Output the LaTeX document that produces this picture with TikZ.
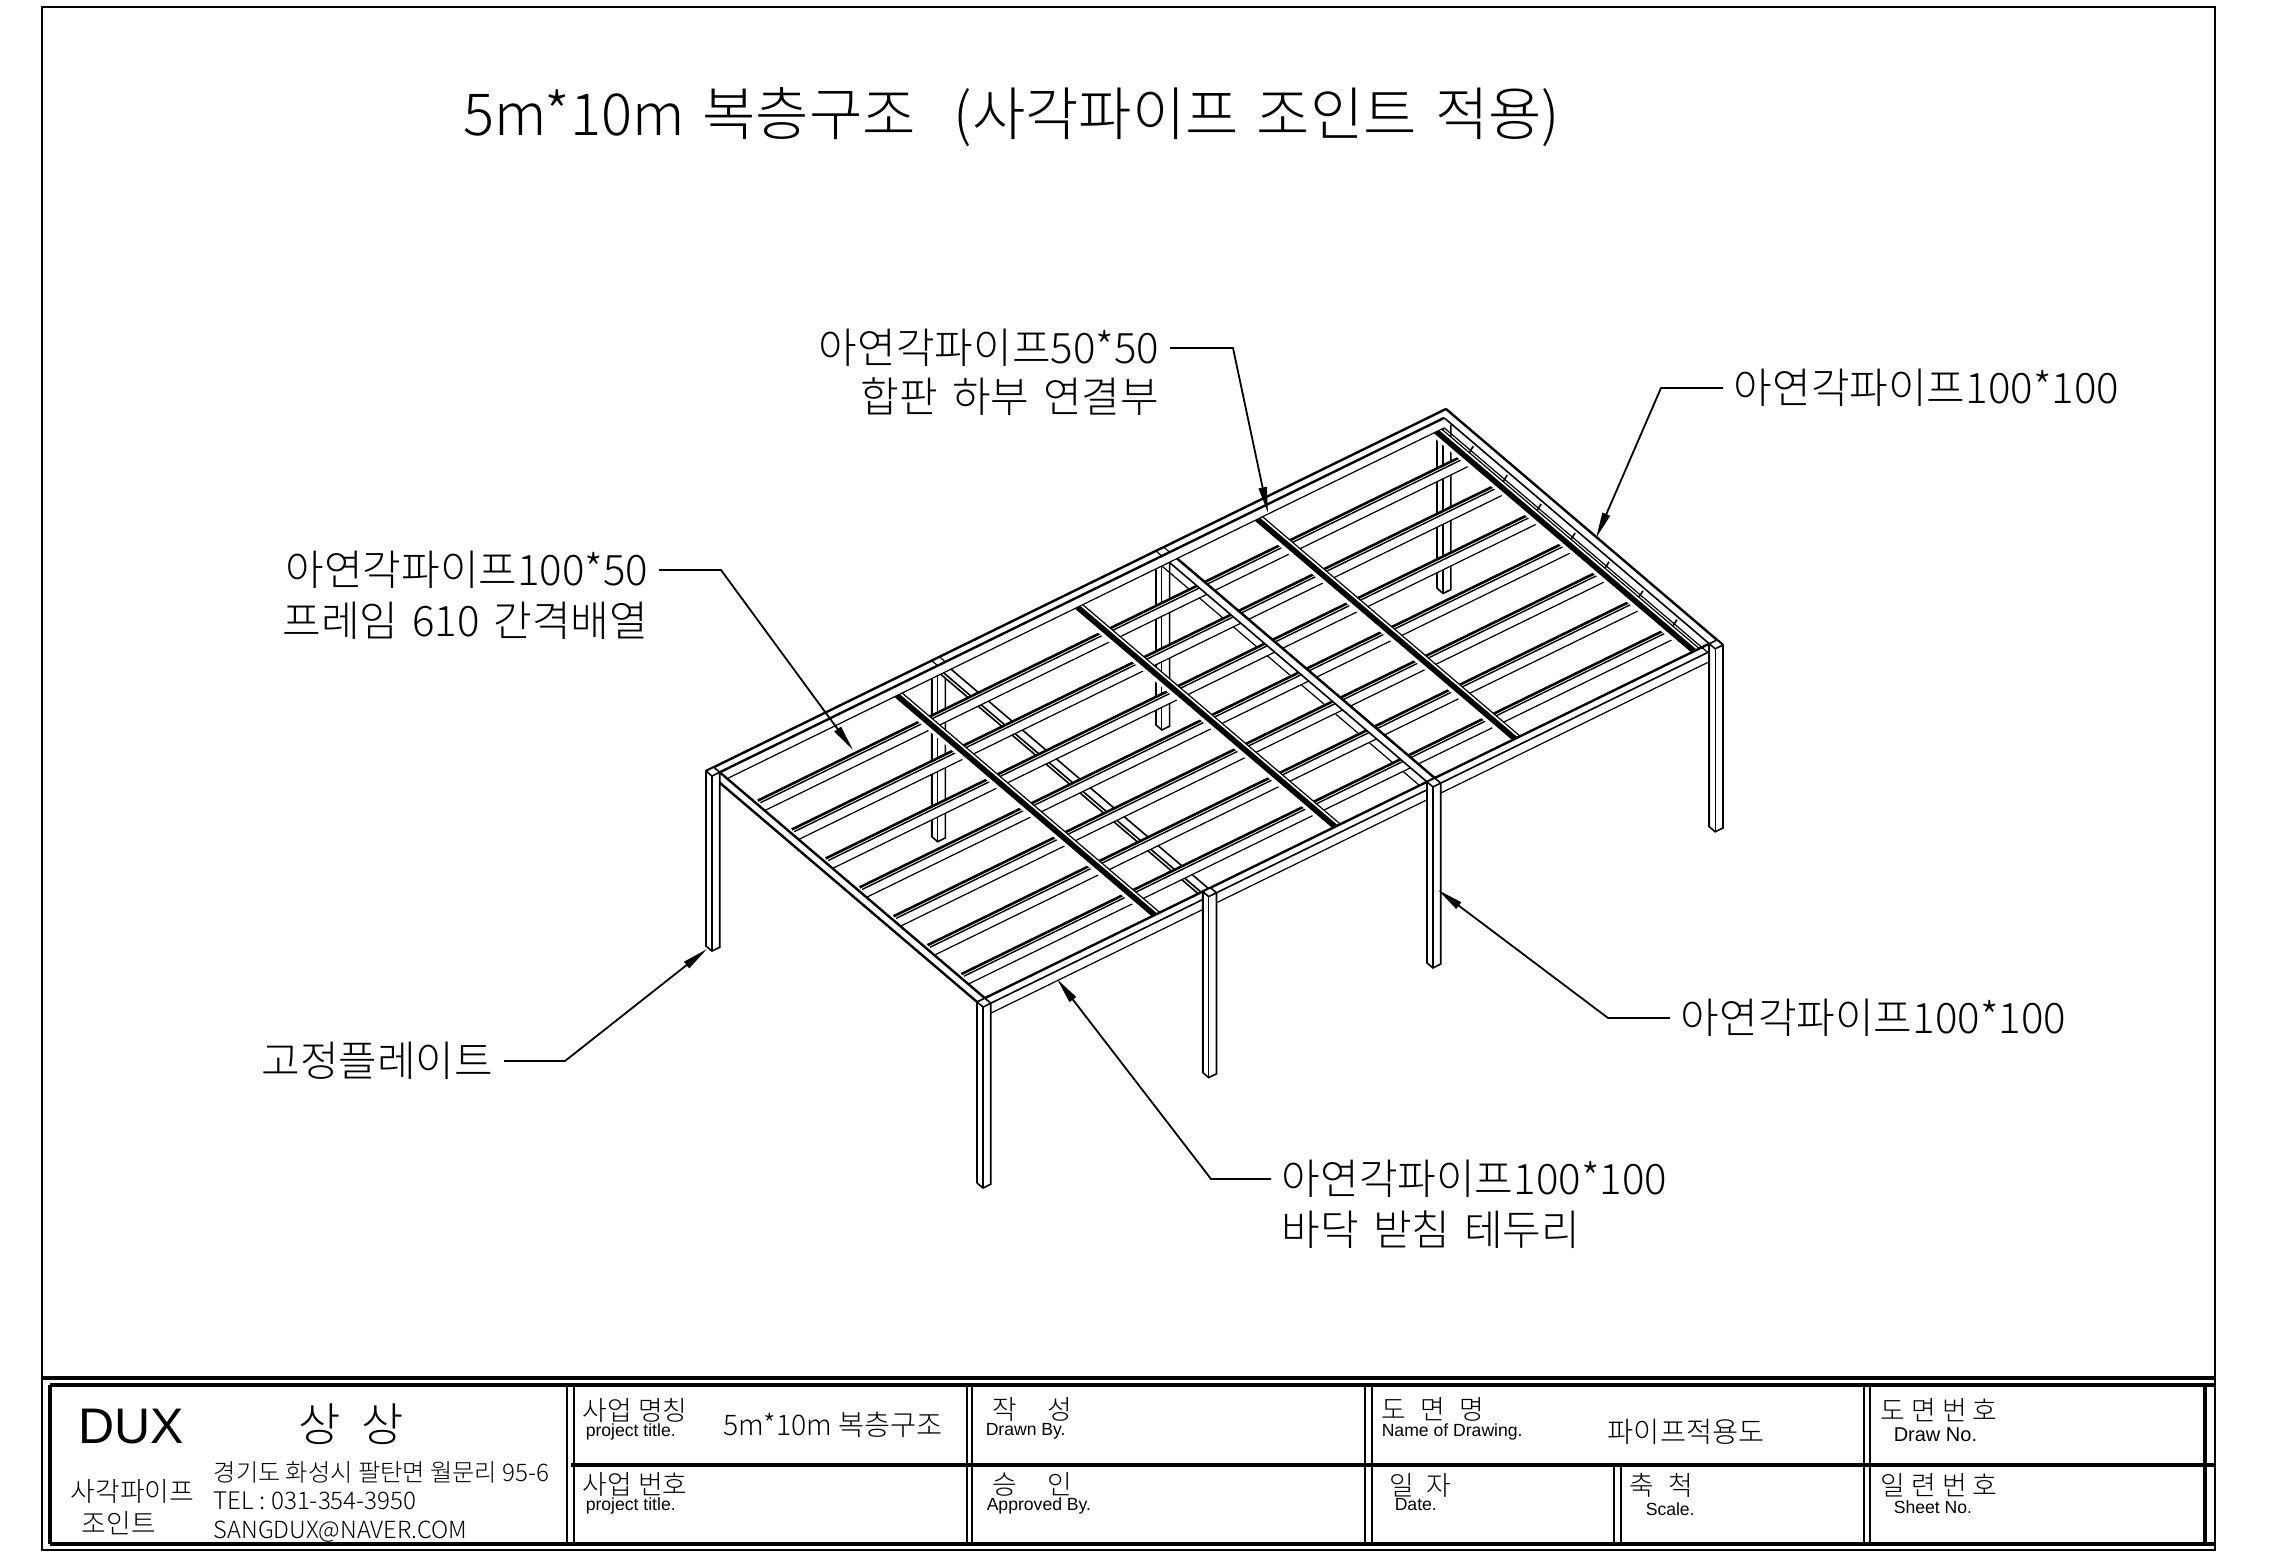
\documentclass[tikz,border=0pt]{standalone}
\usepackage{fontspec}
\setmainfont{Noto Sans CJK KR}
\newfontfamily\krfont{Noto Sans CJK KR}[UprightFont={* Light}]
\newfontfamily\latfont{Liberation Sans}
\usetikzlibrary{arrows.meta}
\newcommand{\wordgap}[1]{\spaceskip #1\relax}

\tikzset{every picture/.style={line width=0.75pt},
  thinline/.style={line width=0.6pt},
  midline/.style={line width=0.8pt},
  heavyline/.style={line width=1.2pt},
  pipeline/.style={line width=2.8pt},
  sheetline/.style={line width=2pt},
  leader/.style={line width=0.9pt,-{Triangle[length=13pt,width=4pt]}},
  titletext/.style={anchor=west,inner sep=0.75pt,font=\krfont\fontsize{29pt}{34pt}\selectfont\wordgap{9pt}},
  calltext/.style={inner sep=5pt,font=\krfont\fontsize{21pt}{25pt}\selectfont\wordgap{7pt}},
  headtext/.style={anchor=west,inner sep=0pt,font=\krfont\fontsize{13.4pt}{16pt}\selectfont\wordgap{#1}},
  headtext/.default=3pt,
  subtext/.style={anchor=west,inner sep=0pt,font=\latfont\fontsize{8.8pt}{10pt}\selectfont},
  celltext/.style={anchor=west,inner sep=0pt,font=\krfont\fontsize{14.2pt}{17pt}\selectfont},
  addrtext/.style={anchor=west,inner sep=0pt,font=\krfont\fontsize{12.1pt}{15pt}\selectfont}
}
\newcommand{\aW}{0.0105}
\newcommand{\bW}{0.0215}
% a post of the frame: near corner at (#1,#2), length #3
\newcommand{\framepost}[3]{%
  \draw[midline,fill=white] (#1,#2-\bW,0) -- (#1,#2-\bW,#3) -- (#1,#2,#3) -- (#1+\aW,#2,#3) -- (#1+\aW,#2,0);
  \draw[midline,fill=white] (#1,#2-\bW,0) -- (#1+\aW,#2-\bW,0) -- (#1+\aW,#2,0) -- (#1,#2,0) -- cycle;
  \draw[heavyline] (#1,#2-\bW,0) -- (#1,#2-\bW,#3);
  \draw[thinline] (#1,#2,0) -- (#1,#2,#3);
}

\begin{document}
\begin{tikzpicture}[x=0.5pt,y=-0.5pt]
\useasboundingbox (0,0) rectangle (2272,1557);

%Sheet border
\draw [line width=1pt] (42,7) rectangle (2215,1550);

% Text Node
\draw (461,117) node (sheetTitle) [titletext] {5m*10m 복층구조 \hspace{10pt}(사각파이프 조인트 적용)};

%Frame, drawn in its own axes: along the long side, along the short side, down in pixels
\begin{scope}[shift={(706,771)},x={(370pt,181pt)},y={(138.5pt,-118pt)},z={(0pt,-0.5pt)}]
%Back posts
\framepost{0.305}{\bW}{176}
\framepost{0.608}{\bW}{174}
\framepost{0.988}{\bW}{175}

%Lower cross beam
\fill[white] (0.305,0.02,6) -- (0.319,0.02,6) -- (0.319,0.98,6) -- (0.305,0.98,6) -- cycle;
\draw[midline] (0.305,0.02,6) -- (0.305,0.98,6);
\draw[midline] (0.309,0.02,6) -- (0.309,0.98,6);
\draw[midline] (0.319,0.02,6) -- (0.319,0.98,6);

%Side of the upper cross beam
\draw[thinline] (0.608,0.02,10) -- (0.608,0.98,10);

%Joists
\foreach \bpos in {0.148,0.2705,0.393,0.5155,0.638,0.7605,0.883} {
  \fill[white] (0.0147,\bpos,0) -- (0.972,\bpos,0) -- (0.972,\bpos+0.009,10) -- (0.0147,\bpos+0.009,10) -- cycle;
  \draw[line width=1.3pt] (0.0147,\bpos,0) -- (0.972,\bpos,0);
  \draw[line width=0.7pt] (0.0147,\bpos+0.009,0) -- (0.972,\bpos+0.009,0);
  \draw[thinline] (0.0147,\bpos+0.009,10) -- (0.972,\bpos+0.009,10);
}

%Upper cross beam
\draw[midline,fill=white] (0.608,0.02,0) -- (0.608+\aW,0.02,0) -- (0.608+\aW,0.98,0) -- (0.608,0.98,0) -- cycle;
\draw[heavyline] (0.608+\aW,0.02,0) -- (0.608+\aW,0.98,0);

%Pipes under the plywood
\foreach \apos in {0.243,0.487,0.73,0.972} {
  \fill[white] (\apos+0.004,0.02,0) -- (\apos+0.004,0.99,0) -- (\apos,0.99,11) -- (\apos,0.02,11) -- cycle;
  \draw[pipeline] (\apos,0.022,3) -- (\apos,0.988,3);
  \draw[thinline] (\apos+0.004,0.022,0) -- (\apos+0.004,0.988,0);
}

%Joist ends on the right beam
\foreach \bpos in {0.148,0.2705,0.393,0.5155,0.638,0.7605,0.883}
  \draw[midline] (0.976,\bpos,0) -- (0.986,\bpos-0.012,0);

%Back beam
\fill[white] (0,0,0) -- (1,0,0) -- (1,\bW,0) -- (1,\bW,10) -- (0,\bW,10) -- cycle;
\draw[heavyline] (0,0,0) -- (1,0,0);
\draw[heavyline] (\aW,\bW,0) -- (1-\aW,\bW,0);
\draw[thinline] (\aW,\bW,10) -- (1-\aW,\bW,10);
%Front beam
\fill[white] (0,1-\bW,0) -- (1,1-\bW,0) -- (1,1,0) -- (1,1,10) -- (0,1,10) -- cycle;
\draw[heavyline] (\aW,1-\bW,0) -- (1-\aW,1-\bW,0);
\draw[midline] (0,1,0) -- (1,1,0);
\draw[thinline] (\aW,1,10) -- (1-\aW,1,10);
%Left beam
\fill[white] (0,0,0) -- (\aW,\bW,0) -- (\aW,1-\bW,0) -- (0,1,10) -- (0,0,10) -- cycle;
\draw[heavyline] (0,0,0) -- (0,1,0);
\draw[heavyline] (\aW,\bW,0) -- (\aW,1-\bW,0);
%Right beam
\fill[white] (1-\aW,\bW,0) -- (1,0,0) -- (1,1,0) -- (1-\aW,1-\bW,0) -- cycle;
\draw[heavyline] (1,0,0) -- (1,1,0);
\draw[midline] (1-\aW,\bW,0) -- (1-\aW,1-\bW,0);
\draw[thinline] (1-\aW,\bW,10) -- (1-\aW,1-\bW,10);

%Joints on the back and front beams
\foreach \apos in {0.305,0.608} {
  \draw[thinline] (\apos,0,0) -- (\apos,\bW,0) (\apos+\aW,0,0) -- (\apos+\aW,\bW,0);
}

%Front posts
\framepost{0}{\bW}{175}
\framepost{0}{1}{181}
\framepost{0.305}{1}{181}
\framepost{0.608}{1}{181}
\framepost{1-\aW}{1}{183}
\end{scope}

% Text Node
\draw (1170,348) node (lblPlyA) [calltext,anchor=east] {아연각파이프50*50};
\draw (1170,397) node (lblPlyB) [calltext,anchor=east] {합판 하부 연결부};
\draw (1723,388) node (lblRight) [calltext,anchor=west] {아연각파이프100*100};
\draw (659,570) node (lblJoistA) [calltext,anchor=east] {아연각파이프100*50};
\draw (659,621) node (lblJoistB) [calltext,anchor=east] {프레임 610 간격배열};
\draw (504,1061) node (lblPlate) [calltext,anchor=east] {고정플레이트};
\draw (1670,1018) node (lblPost) [calltext,anchor=west] {아연각파이프100*100};
\draw (1271,1179) node (lblBaseA) [calltext,anchor=west] {아연각파이프100*100};
\draw (1271,1230) node (lblBaseB) [calltext,anchor=west] {바닥 받침 테두리};

%Leader ends
\coordinate (bendPly) at (1233,348);
\coordinate (tipPly) at (1268,513);
\coordinate (bendRight) at (1661,388);
\coordinate (tipRight) at (1596,538);
\coordinate (bendJoist) at (721,570);
\coordinate (tipJoist) at (853,750);
\coordinate (bendPlate) at (565,1061);
\coordinate (tipPlate) at (707,949);
\coordinate (bendPost) at (1608,1018);
\coordinate (tipPost) at (1438,890);
\coordinate (bendBase) at (1211,1179);
\coordinate (tipBase) at (1057,979);

%Leaders
\draw[leader] (lblPlyA.east) -- (bendPly) -- (tipPly);
\draw[leader] (lblRight.west) -- (bendRight) -- (tipRight);
\draw[leader] (lblJoistA.east) -- (bendJoist) -- (tipJoist);
\draw[leader] (lblPlate.east) -- (bendPlate) -- (tipPlate);
\draw[leader] (lblPost.west) -- (bendPost) -- (tipPost);
\draw[leader] (lblBaseA.west) -- (bendBase) -- (tipBase);

%Title block
\draw[sheetline] (42,1378) -- (2215,1378);
\draw[sheetline] (50,1385) -- (2215,1385);
\draw[sheetline] (50,1544) -- (2215,1544);
\draw[sheetline] (50,1385) -- (50,1544);
\draw[sheetline] (571,1465) -- (2215,1465);
\foreach \xpos in {567,574,967,972,1365,1372,1864,1870}
  \draw[line width=1.2pt] (\xpos,1385) -- (\xpos,1544);
\foreach \xpos in {1614,1621}
  \draw[line width=1.2pt] (\xpos,1465) -- (\xpos,1544);
\draw[sheetline] (2205,1385) -- (2205,1544);

% Text Node
\draw (78,1427) node (blkDux) [anchor=west,inner sep=0pt,font=\latfont\fontsize{25pt}{30pt}\selectfont] {DUX};
\draw (298,1424) node (blkName) [anchor=west,inner sep=0pt,font=\krfont\fontsize{23pt}{27pt}\selectfont\wordgap{10pt}] {상 상};
\draw (70,1491) node (blkPipe) [headtext] {사각파이프};
\draw (81,1523) node (blkJoint) [headtext] {조인트};
\draw (213,1472) node (blkAddr) [addrtext] {경기도 화성시 팔탄면 월문리 95-6};
\draw (213,1501) node (blkTel) [addrtext] {TEL : 031-354-3950};
\draw (213,1532) node (blkMail) [addrtext,font=\krfont\fontsize{11.8pt}{14pt}\selectfont] {SANGDUX@NAVER.COM};

\draw (582,1410) node (hdProject) [headtext] {사업 명칭};
\draw (585,1432) node (subProject) [subtext] {project title.};
\draw (723,1425) node (valProject) [celltext] {5m*10m 복층구조};
\draw (582,1484) node (hdNumber) [headtext] {사업 번호};
\draw (585,1506) node (subNumber) [subtext] {project title.};

\draw (992,1409) node (hdDrawn) [headtext=15pt] {작 성};
\draw (985,1431) node (subDrawn) [subtext] {Drawn By.};
\draw (992,1484) node (hdApproved) [headtext=15pt] {승 인};
\draw (986,1506) node (subApproved) [subtext] {Approved By.};

\draw (1381,1409) node (hdDrawing) [headtext=7pt] {도 면 명};
\draw (1381,1432) node (subDrawing) [subtext] {Name of Drawing.};
\draw (1607,1432) node (valDrawing) [celltext] {파이프적용도};
\draw (1389,1485) node (hdDate) [headtext=6pt] {일 자};
\draw (1394,1505) node (subDate) [subtext] {Date.};
\draw (1629,1485) node (hdScale) [headtext=7pt] {축 척};
\draw (1645,1509) node (subScale) [subtext] {Scale.};

\draw (1880,1410) node (hdDrawNo) [headtext=3pt] {도 면 번 호};
\draw (1893,1435) node (subDrawNo) [subtext,font=\latfont\fontsize{10pt}{12pt}\selectfont] {Draw No.};
\draw (1880,1485) node (hdSheetNo) [headtext=3pt] {일 련 번 호};
\draw (1893,1507) node (subSheetNo) [subtext] {Sheet No.};

\end{tikzpicture}
\end{document}
